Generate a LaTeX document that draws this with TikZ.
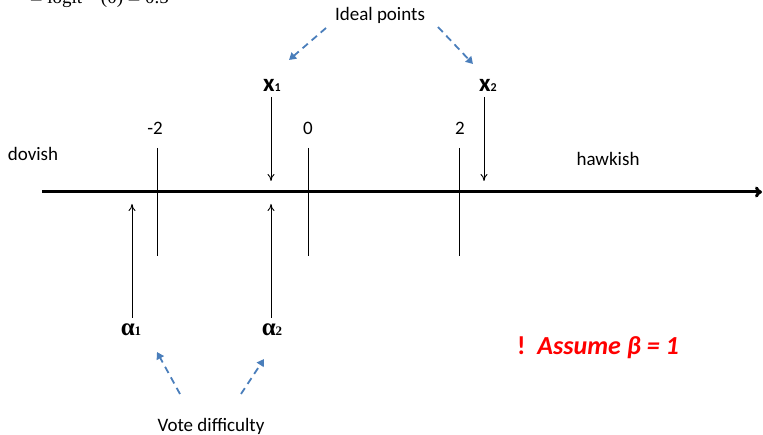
\documentclass[tikz,border=0pt]{standalone}
\usepackage{fontspec}
\setmainfont{Carlito}
\newfontfamily\timesfont{Liberation Serif}
\usetikzlibrary{positioning, arrows.meta}
\definecolor{hintblue}{RGB}{74,126,187}
\definecolor{warnred}{RGB}{255,0,0}
\tikzset{
  lbl/.style={inner sep=0pt, font=\fontsize{19}{21}\selectfont},
  var/.style={inner sep=0pt, font=\fontsize{25}{27}\selectfont\bfseries},
  greek/.style={inner sep=0pt, font=\timesfont\fontsize{25}{27}\selectfont\bfseries},
  tick/.style={line width=1pt},
  pointer/.style={line width=0.9pt, -{To[length=7pt,width=7pt]}},
  hint/.style={hintblue, line width=1.8pt, dash pattern=on 7pt off 5pt, -{Triangle[length=7pt,width=8pt]}}
}

\begin{document}
\begin{tikzpicture}[x=1pt,y=-1pt]
  \useasboundingbox (0,0) rectangle (763,435);
  \clip (0,0) rectangle (763,435);
  % cut-off line from the slide above
  \node [anchor=base west, inner sep=0pt, font=\timesfont\fontsize{19}{21}\selectfont] (logit) at (30,4) {$=$ logit$^{-1}$(0) $=$ 0.5};
  % axis
  \coordinate (ax0) at (42,192);
  \coordinate (ax1) at (762,192);
  \draw [line width=3pt, -{To[length=7pt,width=11pt]}] (ax0) -- (ax1);
  \foreach \t/\v in {m/157, z/308, p/459} {
    \coordinate (t\t top) at (\v,148);
    \coordinate (t\t bot) at (\v,256);
    \draw [tick] (t\t top) -- (t\t bot);
  }
  \node [lbl] (lm) at (155,128) {-2};
  \node [lbl] (lz) at (308,128) {0};
  \node [lbl] (lp) at (460,128) {2};
  \node [lbl] (dovish) at (33,154) {dovish};
  \node [lbl] (hawkish) at (608,159) {hawkish};
  % ideal points
  \node [var] (x1) at (272,85) {x{\fontsize{12}{12}\selectfont 1}};
  \node [var] (x2) at (488,85) {x{\fontsize{12}{12}\selectfont 2}};
  \coordinate (x1end) at (271,181);
  \coordinate (x2end) at (484,181);
  \draw [pointer] (271,97) -- (x1end);
  \draw [pointer] (484,97) -- (x2end);
  % difficulties
  \node [greek] (a1) at (131,330) {α{\fontsize{13}{13}\selectfont 1}};
  \node [greek] (a2) at (272,330) {α{\fontsize{13}{13}\selectfont 2}};
  \coordinate (a1end) at (132,204);
  \coordinate (a2end) at (271,204);
  \draw [pointer] (132,318) -- (a1end);
  \draw [pointer] (271,318) -- (a2end);
  % captions
  \node [lbl] (ideal) at (380,15) {Ideal points};
  \node [lbl] (vote) at (211,426) {Vote difficulty};
  \draw [hint] (326,28) -- (289,60);
  \draw [hint] (438,27) -- (473,64);
  \draw [hint] (180,394) -- (157,352);
  \draw [hint] (241,394) -- (264,359);
  \node [inner sep=0pt, text=warnred, font=\fontsize{26}{28}\selectfont\bfseries] (assume) at (598,348) {!\ \ \textit{Assume β = 1}};
\end{tikzpicture}
\end{document}
